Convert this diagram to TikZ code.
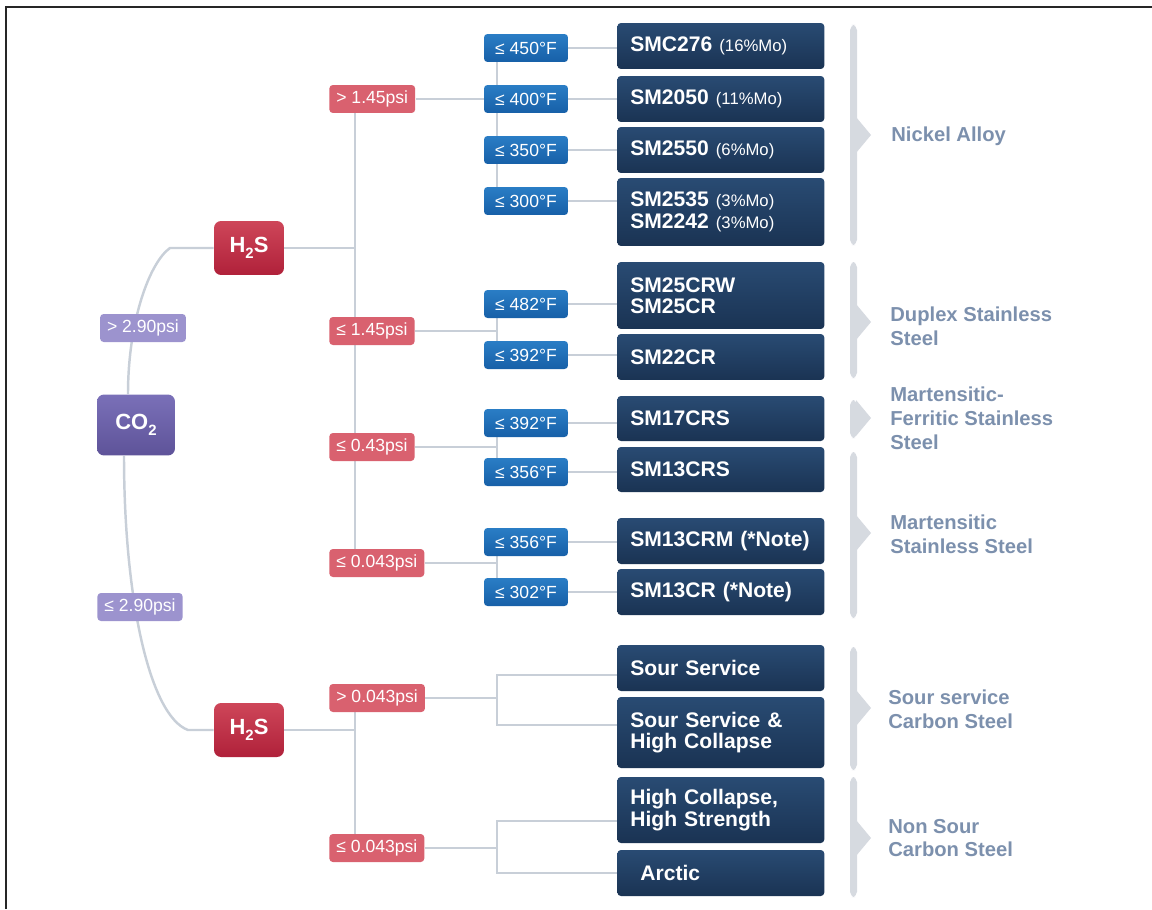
\documentclass[tikz,border=0pt]{standalone}
\usepackage{fontspec}
\setmainfont{Liberation Sans}
\usetikzlibrary{backgrounds}
\definecolor{SMLink}{HTML}{C8CFD8}
\definecolor{SMBrace}{HTML}{D6DAE0}
\definecolor{SMFamily}{HTML}{7C90AD}
\definecolor{SMGasTop}{HTML}{7A70B8}
\definecolor{SMGasBot}{HTML}{5E5399}
\definecolor{SMGasLt}{HTML}{9C93CE}
\definecolor{SMRedTop}{HTML}{CE4659}
\definecolor{SMRedBot}{HTML}{B0213A}
\definecolor{SMRedLt}{HTML}{D9616F}
\definecolor{SMBlueTop}{HTML}{2A7DC5}
\definecolor{SMBlueBot}{HTML}{1760A8}
\definecolor{SMNavyTop}{HTML}{294B73}
\definecolor{SMNavyBot}{HTML}{1A3353}
\newcommand\gasfont{\bfseries\fontsize{12.5}{14}\selectfont}
\newcommand\tagfont{\fontsize{10}{12}\selectfont}
\newcommand\gradefont{\bfseries\fontsize{12}{12.2}\selectfont}
\newcommand\famfont{\bfseries\fontsize{11.5}{13.6}\selectfont}
\newcommand\mo[1]{{\mdseries\fontsize{9.5}{12}\selectfont(#1)}}
\newcommand\subtwo{\raisebox{-0.55ex}{\fontsize{8.5}{9}\selectfont 2}}
\tikzset{
  link/.style={draw=SMLink,line width=1.4pt},
  tag/.style={rounded corners=2pt,text=white,font=\tagfont,inner xsep=0.14cm,inner ysep=0pt,minimum height=0.56cm},
  gastag/.style={tag,fill=SMGasLt},
  psitag/.style={tag,fill=SMRedLt,anchor=west},
  degtag/.style={tag,top color=SMBlueTop,bottom color=SMBlueBot,minimum width=1.68cm},
  gasbox/.style={rounded corners=4pt,text=white,font=\gasfont,inner sep=0pt},
  co2box/.style={gasbox,top color=SMGasTop,bottom color=SMGasBot,minimum width=1.56cm,minimum height=1.22cm},
  h2sbox/.style={gasbox,top color=SMRedTop,bottom color=SMRedBot,minimum width=1.4cm,minimum height=1.08cm},
  grade/.style={rounded corners=2pt,anchor=west,text=white,font=\gradefont,align=left,text width=3.62cm,inner xsep=0.26cm,inner ysep=0pt,top color=SMNavyTop,bottom color=SMNavyBot},
  family/.style={anchor=west,align=left,text=SMFamily,font=\famfont,inner sep=0pt},
  brace/.style={fill=SMBrace}
}

\begin{document}
\begin{tikzpicture}[x=0.02cm,y=-0.02cm]
\path[use as bounding box] (0,0) rectangle (1152,909);
\draw[line width=1.4pt,black!85] (6,909) -- (6,7) -- (1152,7);

% gases
\node[co2box] (co2) at (136,425) {CO\subtwo};
\node[h2sbox] (h2sA) at (249,248) {H\subtwo S};
\node[h2sbox] (h2sB) at (249,730) {H\subtwo S};
\node[gastag] (cHi) at (143,328) {> 2.90psi};
\node[gastag] (cLo) at (140,607) {≤ 2.90psi};

% H2S pressure
\node[psitag] (pA) at (329,99) {> 1.45psi};
\node[psitag] (pB) at (329,331) {≤ 1.45psi};
\node[psitag] (pC) at (329,447) {≤ 0.43psi};
\node[psitag] (pD) at (329,563) {≤ 0.043psi};
\node[psitag] (pE) at (329,698) {> 0.043psi};
\node[psitag] (pF) at (329,848) {≤ 0.043psi};

% temperature
\node[degtag] (tA) at (526,48) {≤ 450°F};
\node[degtag] (tB) at (526,99) {≤ 400°F};
\node[degtag] (tC) at (526,150) {≤ 350°F};
\node[degtag] (tD) at (526,201) {≤ 300°F};
\node[degtag] (tE) at (526,304) {≤ 482°F};
\node[degtag] (tF) at (526,355) {≤ 392°F};
\node[degtag] (tG) at (526,423) {≤ 392°F};
\node[degtag] (tH) at (526,472) {≤ 356°F};
\node[degtag] (tI) at (526,542) {≤ 356°F};
\node[degtag] (tJ) at (526,592) {≤ 302°F};

% grades
\node[grade,minimum height=0.92cm] (gA) at (617,46) {SMC276 \mo{16\%Mo}};
\node[grade,minimum height=0.92cm] (gB) at (617,99) {SM2050 \mo{11\%Mo}};
\node[grade,minimum height=0.92cm] (gC) at (617,150) {SM2550 \mo{6\%Mo}};
\node[grade,minimum height=1.36cm] (gD) at (617,212) {SM2535 \mo{3\%Mo}\\SM2242 \mo{3\%Mo}};
\node[grade,minimum height=1.34cm] (gE) at (617,295.5) {SM25CRW\\SM25CR};
\node[grade,minimum height=0.92cm] (gF) at (617,357) {SM22CR};
\node[grade,minimum height=0.9cm] (gG) at (617,418.5) {SM17CRS};
\node[grade,minimum height=0.9cm] (gH) at (617,469.5) {SM13CRS};
\node[grade,minimum height=0.92cm] (gI) at (617,541) {SM13CRM (*Note)};
\node[grade,minimum height=0.92cm] (gJ) at (617,592) {SM13CR (*Note)};
\node[grade,minimum height=0.92cm] (gK) at (617,668) {Sour Service};
\node[grade,minimum height=1.42cm] (gL) at (617,732.5) {Sour Service \&\\High Collapse};
\node[grade,minimum height=1.32cm] (gM) at (617,810) {High Collapse,\\High Strength};
\node[grade,minimum height=0.92cm] (gN) at (617,873) {\hspace*{0.2cm}Arctic};

% families
\foreach \top/\bot/\mid in {25/245/135, 262/378/322, 400/438/418, 452/618/533, 647/770/708, 777/897/838}{
  \fill[brace,rounded corners=3pt] (850,\top) rectangle (857,\bot);
  \fill[brace] (856,\mid-18) -- (871,\mid) -- (856,\mid+18) -- cycle;
}
\node[family] (fA) at (891,136) {Nickel Alloy};
\node[family] (fB) at (890,326) {Duplex Stainless\\Steel};
\node[family] (fC) at (890,418) {Martensitic-\\Ferritic Stainless\\Steel};
\node[family] (fD) at (890,534) {Martensitic\\Stainless Steel};
\node[family] (fE) at (888,709) {Sour service\\Carbon Steel};
\node[family] (fF) at (888,838) {Non Sour\\Carbon Steel};

\coordinate (sx) at (355,0);
\coordinate (tx) at (497,0);

\begin{scope}[on background layer]
% CO2 split
\draw[link] ([xshift=-0.16cm]co2.north) .. controls (128,320) and (150,262) .. (170,248) -- (h2sA.west);
\draw[link] ([xshift=-0.24cm]co2.south) .. controls (124,600) and (150,716) .. (188,730) -- (h2sB.west);
% H2S spines
\draw[link] (h2sA.east) -- (h2sA -| sx);
\draw[link] (pA -| sx) -- (pD -| sx);
\draw[link] (h2sB.east) -- (h2sB -| sx);
\draw[link] (pE -| sx) -- (pF -| sx);
% pressure to temperature
\draw[link] (pA.east) -- (tB.west);
\draw[link] (tA -| tx) -- (tD -| tx);
\foreach \p/\a/\b in {pB/tE/tF, pC/tG/tH, pD/tI/tJ}{
  \draw[link] (\p.east) -- (\p -| tx);
  \draw[link] (\a -| tx) -- (\b -| tx);
}
% temperature to grade
\foreach \t/\g in {tA/gA, tB/gB, tC/gC, tD/gD, tE/gE, tF/gF, tG/gG, tH/gH, tI/gI, tJ/gJ}{
  \draw[link] (\t.east) -- (\t.east -| \g.west);
}
% carbon steel
\draw[link] (pE.east) -- (pE -| tx);
\draw[link] (gK.west |- 0,675) -- (tx |- 0,675) -- (tx |- 0,725) -- (gL.west |- 0,725);
\draw[link] (pF.east) -- (pF -| tx);
\draw[link] (gM.west |- 0,821) -- (tx |- 0,821) -- (tx |- 0,873) -- (gN.west |- 0,873);
\end{scope}
\end{tikzpicture}
\end{document}
